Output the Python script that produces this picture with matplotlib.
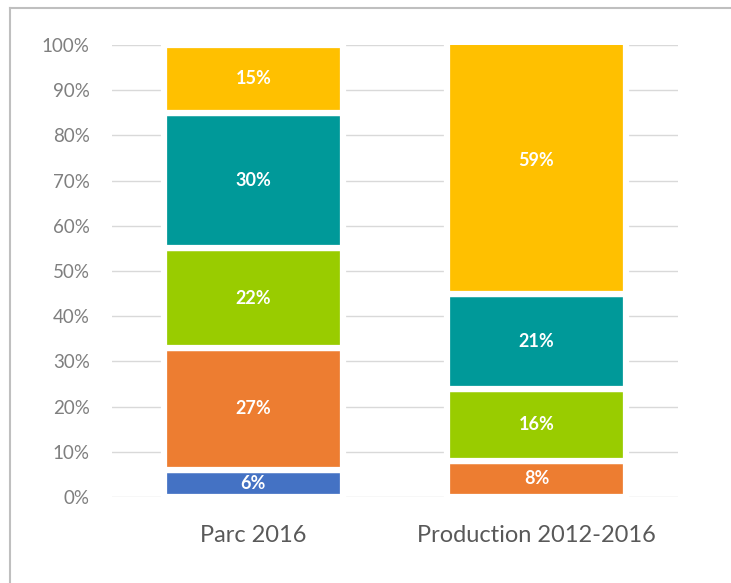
import matplotlib
matplotlib.use('Agg')
import matplotlib.pyplot as plt
from matplotlib.lines import Line2D
import numpy as np

categories = ['Parc 2016', 'Production 2012-2016']
# segments from bottom to top
blue = [6, 0]
orange = [27, 8]
green = [22, 16]
teal = [30, 21]
yellow = [15, 59]

series = [blue, orange, green, teal, yellow]
colors = ['#4472C4', '#ED7D31', '#99CC00', '#009999', '#FFC000']

plt.rcParams['font.family'] = ['Lato', 'DejaVu Sans']

fig = plt.figure(figsize=(7.31, 5.83), dpi=100)
ax = fig.add_axes([0.153, 0.1475, 0.7745, 0.7753])

x = np.arange(len(categories))
bottom = np.zeros(len(categories))
for vals, col in zip(series, colors):
    vals = np.array(vals, dtype=float)
    ax.bar(x, vals, 0.635, bottom=bottom, color=col, edgecolor='white',
           linewidth=4.5, zorder=2)
    for xi, v, b in zip(x, vals, bottom):
        if v > 0:
            ax.text(xi, b + v / 2, '%d%%' % v, ha='center', va='center',
                    color='white', fontsize=13, fontweight='bold', zorder=3)
    bottom += vals

ax.set_xlim(-0.5, 1.5)
ax.set_ylim(0, 100)
ax.set_yticks(range(0, 101, 10))
ax.set_yticklabels(['%d%%' % t for t in range(0, 101, 10)])
ax.set_xticks(x)
ax.set_xticklabels(categories)
ax.yaxis.grid(True, color='#d9d9d9', linewidth=1, zorder=0)
ax.set_axisbelow(True)
for s in ax.spines.values():
    s.set_visible(False)
ax.tick_params(axis='y', length=0, pad=16, labelsize=13.5, labelcolor='#7f7f7f')
ax.tick_params(axis='x', length=0, pad=20, labelsize=17, labelcolor='#595959')

# outer frame (top and left only)
fig.add_artist(Line2D([10 / 731, 1], [1 - 8 / 583, 1 - 8 / 583], color='#bfbfbf',
                      linewidth=1.5, transform=fig.transFigure))
fig.add_artist(Line2D([10 / 731, 10 / 731], [0, 1 - 8 / 583], color='#bfbfbf',
                      linewidth=1.5, transform=fig.transFigure))

fig.savefig('out.png', dpi=100)
